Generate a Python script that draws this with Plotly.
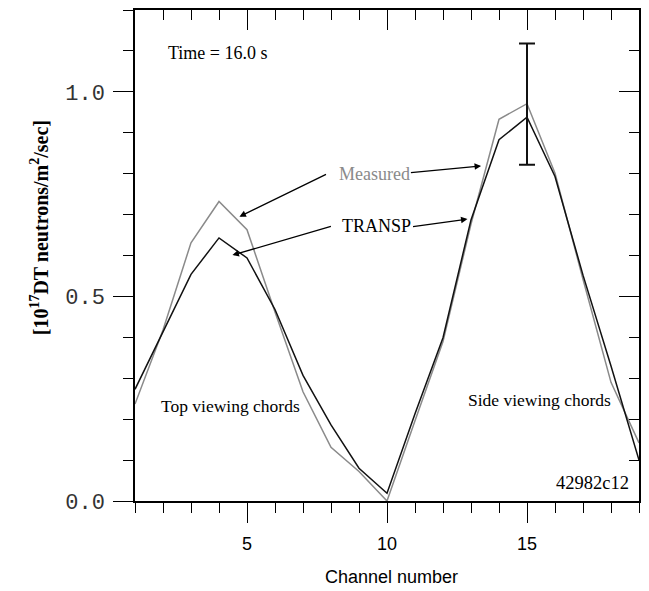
import plotly.graph_objects as go

channels = list(range(1, 20))
measured = [0.237, 0.418, 0.631, 0.732, 0.663, 0.462, 0.267, 0.131, 0.072, 0.0,
            0.196, 0.390, 0.677, 0.933, 0.971, 0.801, 0.542, 0.290, 0.142]
transp = [0.273, 0.413, 0.554, 0.643, 0.594, 0.468, 0.307, 0.186, 0.080, 0.019,
          0.213, 0.399, 0.687, 0.883, 0.938, 0.793, 0.552, 0.330, 0.100]
err_channel = [15]
err_value = [0.970]
err_size = [0.148]

x_ticks = [5, 10, 15]
y_ticks = [0.0, 0.5, 1.0]
y_ticklabels = ["0.0", "0.5", "1.0"]

fig = go.Figure()
fig.add_trace(go.Scatter(x=channels, y=measured, mode="lines",
                         line=dict(color="#8a8a8a", width=1.5), name="Measured"))
fig.add_trace(go.Scatter(x=channels, y=transp, mode="lines",
                         line=dict(color="#111111", width=1.5), name="TRANSP"))
fig.add_trace(go.Scatter(x=err_channel, y=err_value, mode="markers",
                         xaxis="x2", yaxis="y2",
                         marker=dict(size=1, color="rgba(0,0,0,0)"),
                         error_y=dict(type="data", array=err_size, visible=True,
                                      color="#111111", thickness=2, width=8),
                         showlegend=False))

axis_common = dict(showline=True, linecolor="black", linewidth=1.5,
                   showgrid=False, zeroline=False, tickcolor="black", tickwidth=1.3)

fig.update_layout(
    width=649, height=591,
    margin=dict(l=135, r=10, t=10, b=90),
    paper_bgcolor="white", plot_bgcolor="white",
    showlegend=False,
    xaxis=dict(range=[1, 19], tickvals=x_ticks, ticks="outside", ticklen=20,
               minor=dict(dtick=1, tick0=0, ticks="outside", ticklen=10,
                          tickcolor="black", tickwidth=1.3),
               tickfont=dict(family="Liberation Sans, Arial", size=18, color="black"),
               ticklabelstandoff=6, **axis_common),
    xaxis2=dict(range=[1, 19], overlaying="x", side="top", anchor="y2",
                tickvals=x_ticks, ticks="inside", ticklen=20, showticklabels=False,
                minor=dict(dtick=1, tick0=0, ticks="inside", ticklen=10,
                           tickcolor="black", tickwidth=1.3),
                **axis_common),
    yaxis=dict(range=[0, 1.2], tickvals=y_ticks, ticktext=y_ticklabels,
               ticks="outside", ticklen=20,
               minor=dict(dtick=0.1, tick0=0, ticks="outside", ticklen=10,
                          tickcolor="black", tickwidth=1.3),
               tickfont=dict(family="Liberation Mono, Courier New", size=22, color="#333333"),
               ticklabelstandoff=4, **axis_common),
    yaxis2=dict(range=[0, 1.2], overlaying="y", side="right", anchor="x2",
                tickvals=y_ticks, ticks="inside", ticklen=20, showticklabels=False,
                minor=dict(dtick=0.1, tick0=0, ticks="inside", ticklen=10,
                           tickcolor="black", tickwidth=1.3),
                **axis_common),
)

serif = "Liberation Serif, Times New Roman"
ann = []
ann.append(dict(x=2.09, y=1.095, text="Time = 16.0 s", xanchor="left", yanchor="middle",
                showarrow=False, font=dict(family=serif, size=18, color="black")))
ann.append(dict(x=9.54, y=0.80, text="Measured", xanchor="center", yanchor="middle",
                showarrow=False, font=dict(family=serif, size=18, color="#8a8a8a")))
ann.append(dict(x=9.64, y=0.672, text="TRANSP", xanchor="center", yanchor="middle",
                showarrow=False, font=dict(family=serif, size=18, color="black")))
ann.append(dict(x=1.85, y=0.231, text="Top viewing chords", xanchor="left", yanchor="middle",
                showarrow=False, font=dict(family=serif, size=17.5, color="black")))
ann.append(dict(x=12.83, y=0.247, text="Side viewing chords", xanchor="left", yanchor="middle",
                showarrow=False, font=dict(family=serif, size=17.5, color="black")))
ann.append(dict(x=18.73, y=0.044, text="42982c12", xanchor="right", yanchor="middle",
                showarrow=False, font=dict(family=serif, size=18.5, color="black")))

arrows = [
    ((7.875, 0.800), (4.73, 0.695)),
    ((8.05, 0.672), (4.48, 0.601)),
    ((10.80, 0.802), (13.36, 0.819)),
    ((10.875, 0.670), (12.875, 0.689)),
]
for (tx, ty), (hx, hy) in arrows:
    ann.append(dict(x=hx, y=hy, ax=tx, ay=ty, axref="x", ayref="y", xref="x", yref="y",
                    text="", showarrow=True, arrowhead=2, arrowsize=1.0, arrowwidth=1.3,
                    arrowcolor="black", standoff=0, startstandoff=0))

ann.append(dict(xref="paper", yref="paper", x=0.509, y=-0.155,
                text="Channel number", showarrow=False, xanchor="center", yanchor="middle",
                font=dict(family="Liberation Sans, Arial", size=18, color="black")))
ann.append(dict(xref="paper", yref="paper", x=-0.19, y=0.556, textangle=-90,
                text="<b>[10<sup>17</sup>DT neutrons/m<sup>2</sup>/sec]</b>",
                showarrow=False, xanchor="center", yanchor="middle",
                font=dict(family=serif, size=20, color="black")))
fig.update_layout(annotations=ann)

fig.write_html("out.html")
